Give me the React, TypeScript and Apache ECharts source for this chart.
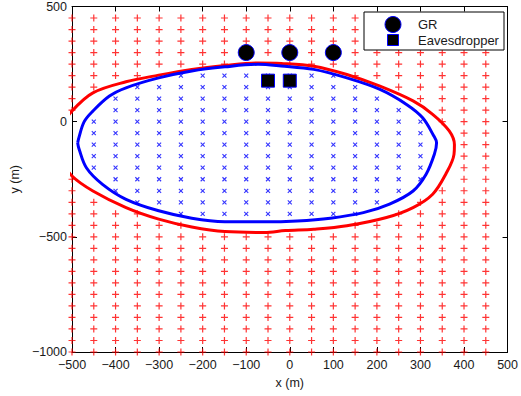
import React, { useEffect, useRef } from "react";
import * as echarts from "echarts";

// Sample-grid columns (x, m)
const gridX = [-500, -450, -400, -350, -300, -250, -200, -150, -100, -50, 0, 50, 100, 150, 200, 250, 300, 350, 400, 450];

// Rows where every sample point is insecure (y, m)
const fullRedRows = [450, 400, 350, 300, -500, -550, -600, -650, -700, -750, -800, -850, -900, -950, -1000];

// Rows crossed by the boundaries: red points at x <= redLeftMax or x >= redRightMin,
// blue points for blueMin <= x <= blueMax
const rowY = [250, 200, 150, 100, 50, 0, -50, -100, -150, -200, -250, -300, -350, -400, -450];
const redLeftMax = [-150, -350, -450, -500, -500, null, null, null, null, null, -500, -500, -450, -350, -250];
const blueMin = [null, -250, -350, -400, -400, -450, -450, -450, -450, -450, -400, -400, -350, -250, null];
const blueMax = [null, 100, 150, 200, 250, 300, 300, 300, 300, 300, 300, 250, 200, 150, null];
const redRightMin = [0, 150, 250, 300, 350, 350, 400, 400, 400, 400, 400, 350, 300, 250, 150];

// Boundary curves (x, y)
const blueBoundary = [
  [-487, -92], [-484, -68], [-472, 0], [-452, 46], [-414, 111], [-376, 147], [-301, 190], [-225, 220],
  [-149, 238], [-73, 249], [-20, 242], [55, 227], [131, 190], [207, 140], [268, 75], [305, 17],
  [330, -60], [337, -92], [332, -141], [313, -228], [283, -301], [229, -358], [169, -395], [93, -419],
  [17, -431], [-58, -435], [-149, -434], [-225, -419], [-301, -387], [-376, -337], [-430, -272],
  [-467, -200], [-484, -118], [-487, -92],
];
const redBoundary = [
  [-528, -95], [-522, -20], [-500, 46], [-452, 125], [-376, 173], [-301, 202], [-225, 227], [-149, 244],
  [-73, 255], [-20, 253], [55, 241], [131, 205], [207, 154], [283, 90], [328, 32], [366, -40],
  [378, -100], [377, -142], [358, -228], [328, -315], [283, -373], [222, -416], [131, -452], [55, -467],
  [-10, -473], [-58, -481], [-149, -477], [-225, -457], [-301, -423], [-376, -373], [-452, -301],
  [-500, -236], [-522, -170], [-528, -95],
];

// Node positions
const grNodes = [[-100, 300], [0, 300], [100, 300]];
const eveNodes = [[-50, 178], [0, 178]];

const FONT = "'Liberation Sans', Arial, Helvetica, sans-serif";
const minus = (v: number) => String(v).replace("-", "\u2212");

function buildPoints() {
  const red: number[][] = [];
  const blue: number[][] = [];
  fullRedRows.forEach((y) => gridX.forEach((x) => red.push([x, y])));
  rowY.forEach((y, i) => {
    gridX.forEach((x) => {
      const l = redLeftMax[i];
      const r = redRightMin[i];
      const bMin = blueMin[i];
      const bMax = blueMax[i];
      if ((l !== null && x <= l) || (r !== null && x >= r)) red.push([x, y]);
      else if (bMin !== null && bMax !== null && x >= bMin && x <= bMax) blue.push([x, y]);
    });
  });
  return { red, blue };
}

export default function App() {
  const ref = useRef<HTMLDivElement>(null);

  useEffect(() => {
    if (!ref.current) return;
    const chart = echarts.init(ref.current, undefined, { renderer: "svg" });
    const { red, blue } = buildPoints();

    const baseAxis = {
      type: "value" as const,
      axisLine: { show: true, onZero: false, lineStyle: { color: "#000", width: 1 } },
      axisTick: { show: true, inside: true, length: 5, lineStyle: { color: "#000", width: 1 } },
      splitLine: { show: false },
    };
    const labelStyle = { fontSize: 12.5, color: "#1a1a1a", fontFamily: FONT };

    chart.setOption({
      animation: false,
      grid: { left: 72, right: 10, top: 5, bottom: 44, containLabel: false },
      xAxis: [
        {
          ...baseAxis,
          min: -500, max: 500, interval: 100, position: "bottom",
          axisLabel: { ...labelStyle, margin: 6, formatter: minus },
          name: "x (m)", nameLocation: "middle", nameGap: 24,
          nameTextStyle: { ...labelStyle },
        },
        {
          ...baseAxis,
          min: -500, max: 500, interval: 100, position: "top",
          axisLabel: { show: false },
        },
      ],
      yAxis: [
        {
          ...baseAxis,
          min: -1000, max: 500, interval: 500, position: "left",
          axisLabel: { ...labelStyle, margin: 5, formatter: minus },
          name: "y (m)", nameLocation: "middle", nameGap: 51, nameRotate: 90,
          nameTextStyle: { ...labelStyle },
        },
        {
          ...baseAxis,
          min: -1000, max: 500, interval: 500, position: "right",
          axisLabel: { show: false },
        },
      ],
      series: [
        {
          type: "scatter", silent: true, data: red, symbol: "path://M5,0L5,10M0,5L10,5",
          symbolSize: 7, itemStyle: { color: "none", borderColor: "#ff0000", borderWidth: 1.2 }, z: 1,
        },
        {
          type: "scatter", silent: true, data: blue, symbol: "path://M0,0L10,10M10,0L0,10",
          symbolSize: 4, itemStyle: { color: "none", borderColor: "#0000ff", borderWidth: 1.1 }, z: 1,
        },
        {
          type: "line", silent: true, data: redBoundary, smooth: 0.35, showSymbol: false, clip: true,
          lineStyle: { color: "#ff0000", width: 3 }, z: 5,
        },
        {
          type: "line", silent: true, data: blueBoundary, smooth: 0.35, showSymbol: false, clip: true,
          lineStyle: { color: "#0000ff", width: 3 }, z: 5,
        },
        {
          type: "scatter", silent: true, name: "GR", data: grNodes, symbol: "circle", symbolSize: 16,
          itemStyle: { color: "#000", borderColor: "#0000ff", borderWidth: 1, opacity: 1 }, z: 10, zlevel: 1,
        },
        {
          type: "scatter", silent: true, name: "Eavesdropper", data: eveNodes, symbol: "rect", symbolSize: 13,
          itemStyle: { color: "#000", borderColor: "#0000ff", borderWidth: 1, opacity: 1 }, z: 10, zlevel: 1,
        },
      ],
      graphic: [
        { type: "rect", z: 100, zlevel: 1, silent: true, shape: { x: 364, y: 12, width: 140, height: 38 }, style: { fill: "#fff", stroke: "#000", lineWidth: 1 } },
        { type: "circle", z: 101, zlevel: 1, silent: true, shape: { cx: 393, cy: 24.5, r: 8 }, style: { fill: "#000", stroke: "#0000ff", lineWidth: 1 } },
        { type: "rect", z: 101, zlevel: 1, silent: true, shape: { x: 387.5, y: 34.5, width: 11, height: 11 }, style: { fill: "#000", stroke: "#0000ff", lineWidth: 1 } },
        { type: "text", z: 101, zlevel: 1, silent: true, x: 418, y: 24.5, style: { text: "GR", fill: "#1a1a1a", font: `13px ${FONT}`, verticalAlign: "middle" } },
        { type: "text", z: 101, zlevel: 1, silent: true, x: 418, y: 40.5, style: { text: "Eavesdropper", fill: "#1a1a1a", font: `13px ${FONT}`, verticalAlign: "middle" } },
      ],
    });
    return () => chart.dispose();
  }, []);

  return <div ref={ref} style={{ width: 521, height: 396, position: "absolute", left: 0, top: 0 }} />;
}
